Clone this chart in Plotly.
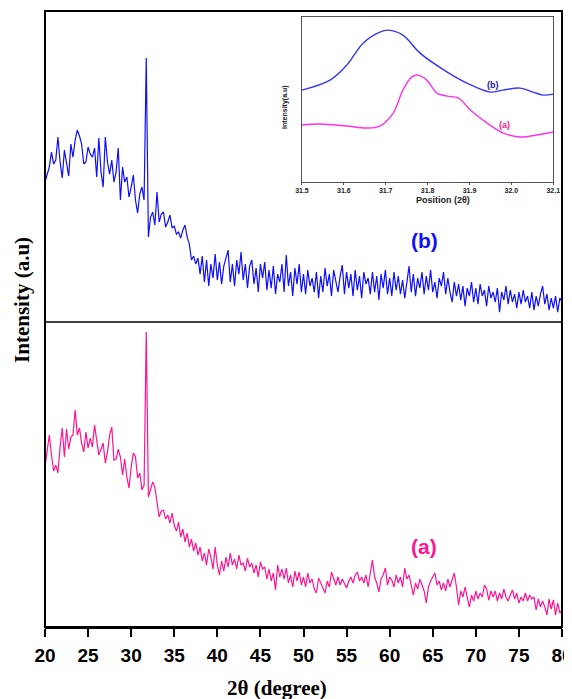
import plotly.graph_objects as go

# ---------------- data ----------------
# main scan grid: 20..80 deg, 0.25 deg steps
two_theta = [round(20 + 0.25 * i, 2) for i in range(241)]

# sample (b) - upper panel (arbitrary units)
intensity_b = [
    140, 148, 155, 170, 158, 162, 185, 160,
    144, 172, 160, 146, 178, 165, 182, 192,
    186, 178, 158, 160, 175, 168, 165, 174,
    145, 184, 150, 135, 185, 160, 148, 162,
    140, 150, 174, 122, 155, 140, 145, 125,
    135, 147, 122, 109, 128, 135, 122, 264,
    85, 105, 110, 97, 130, 100, 108, 110,
    95, 100, 107, 94, 96, 88, 90, 84,
    92, 97, 85, 78, 62, 66, 58, 64,
    48, 66, 40, 62, 36, 58, 44, 68,
    42, 60, 38, 56, 64, 72, 40, 58,
    36, 62, 48, 70, 42, 58, 34, 56,
    62, 38, 54, 30, 58, 44, 60, 32,
    52, 34, 56, 28, 48, 40, 58, 30,
    67, 36, 50, 26, 54, 38, 58, 30,
    48, 28, 52, 36, 44, 30, 50, 24,
    46, 30, 54, 36, 48, 26, 52, 40,
    30, 46, 57, 28, 50, 34, 48, 26,
    52, 32, 46, 24, 50, 38, 44, 28,
    50, 30, 46, 22, 48, 34, 52, 28,
    44, 26, 50, 32, 46, 28, 42, 24,
    40, 56, 30, 48, 26, 44, 34, 50,
    28, 46, 32, 52, 30, 40, 24, 44,
    36, 50, 28, 44, 30, 20, 40, 26,
    38, 22, 36, 16, 34, 26, 40, 20,
    34, 18, 38, 26, 32, 16, 36, 24,
    30, 20, 34, 10, 30, 22, 36, 18,
    32, 20, 28, 14, 30, 18, 32, 20,
    26, 14, 30, 12, 26, 16, 28, 36,
    18, 28, 12, 24, 14, 26, 10, 24,
    20,
]

# sample (a) - lower panel (arbitrary units)
intensity_a = [
    160, 175, 192, 172, 156, 162, 154, 180,
    199, 170, 198, 178, 190, 192, 217, 192,
    199, 184, 175, 195, 179, 189, 180, 202,
    185, 172, 178, 184, 164, 175, 192, 200,
    167, 168, 178, 170, 152, 168, 150, 139,
    160, 174, 170, 149, 154, 137, 142, 295,
    130, 138, 145, 140, 125, 110, 116, 117,
    108, 112, 104, 114, 102, 96, 105, 90,
    98, 85, 94, 80, 88, 76, 84, 72,
    80, 66, 74, 62, 78, 70, 58, 80,
    62, 52, 66, 56, 70, 60, 74, 62,
    68, 58, 72, 62, 64, 56, 69, 60,
    64, 54, 62, 50, 65, 58, 60, 48,
    58, 46, 54, 37, 62, 50, 58, 48,
    59, 44, 52, 40, 56, 46, 55, 42,
    50, 40, 54, 44, 48, 38, 34, 49,
    44, 38, 34, 46, 40, 55, 48, 42,
    50, 42, 48, 44, 39, 46, 50, 44,
    52, 55, 46, 50, 44, 52, 40, 54,
    67, 50, 44, 35, 48, 52, 59, 42,
    50, 47, 40, 52, 44, 50, 40, 59,
    48, 52, 40, 32, 44, 38, 48, 42,
    36, 24, 40, 46, 50, 54, 42, 46,
    37, 44, 36, 48, 40, 46, 54, 40,
    22, 36, 30, 40, 28, 20, 32, 26,
    36, 28, 34, 30, 42, 38, 27, 36,
    30, 36, 26, 34, 28, 38, 30, 26,
    32, 37, 28, 34, 24, 30, 26, 34,
    26, 32, 28, 30, 17, 28, 20, 26,
    20, 12, 28, 18, 27, 12, 24, 14,
    17,
]

x_ticks = [20, 25, 30, 35, 40, 45, 50, 55, 60, 65, 70, 75, 80]

# inset (zoom of the main peak)
inset_b_x = [31.500, 31.567, 31.607, 31.646, 31.686, 31.706, 31.741, 31.782,
             31.847, 31.894, 31.949, 31.980, 32.021, 32.052, 32.076, 32.100]
inset_b_y = [92, 102, 117, 139, 150, 152, 147, 129, 110, 99, 90, 92, 94, 90, 87, 88]

inset_a_x = [31.500, 31.543, 31.607, 31.655, 31.686, 31.718, 31.741, 31.762,
             31.777, 31.798, 31.822, 31.846, 31.874, 31.902, 31.942, 31.981,
             32.021, 32.061, 32.100]
inset_a_y = [57, 58, 56, 54, 56, 69, 92, 105, 107, 102, 89, 86, 84, 72, 59, 49, 45, 47, 50]

inset_ticks = [31.5, 31.6, 31.7, 31.8, 31.9, 32.0, 32.1]
inset_tick_text = ["31.5", "31.6", "31.7", "31.8", "31.9", "32.0", "32.1"]

# ---------------- style ----------------
BLUE = "#0f0fff"
PINK = "#ff1493"
INSET_BLUE = "#3535ff"
INSET_PINK = "#ff30e8"
SANS = "Liberation Sans, Arial, sans-serif"
SERIF = "Liberation Serif, Times New Roman, serif"

SPLIT = 0.495

fig = go.Figure()
fig.add_trace(go.Scatter(x=two_theta, y=intensity_a, xaxis="x", yaxis="y",
                         mode="lines", line=dict(color=PINK, width=1.2),
                         showlegend=False))
fig.add_trace(go.Scatter(x=two_theta, y=intensity_b, xaxis="x", yaxis="y2",
                         mode="lines", line=dict(color=BLUE, width=1.2),
                         showlegend=False))
fig.add_trace(go.Scatter(x=inset_b_x, y=inset_b_y, xaxis="x3", yaxis="y3",
                         mode="lines", line=dict(color=INSET_BLUE, width=1.4, shape="spline", smoothing=1.0),
                         showlegend=False))
fig.add_trace(go.Scatter(x=inset_a_x, y=inset_a_y, xaxis="x3", yaxis="y3",
                         mode="lines", line=dict(color=INSET_PINK, width=1.4, shape="spline", smoothing=1.0),
                         showlegend=False))


def ann(text, x, y, xref, yref, font, angle=0):
    return dict(text=text, x=x, y=y, xref=xref, yref=yref, showarrow=False,
                xanchor="center", yanchor="middle", textangle=angle, font=font)


# page body has an 8px default margin, so the figure is sized/margined to
# put the plot frame at window pixels x 45..562, y 11..627
fig.update_layout(
    width=564, height=691,
    margin=dict(l=37, r=10, t=3, b=72, pad=0),
    paper_bgcolor="white", plot_bgcolor="white",
    xaxis=dict(domain=[0, 1], range=[20, 80], anchor="y", automargin=False,
               tickvals=x_ticks, ticks="outside", ticklen=8, tickwidth=2,
               tickcolor="black", showline=True, linewidth=2, linecolor="black",
               showgrid=False, zeroline=False, ticklabelstandoff=2,
               ticklabeloverflow="allow",
               tickfont=dict(family=SANS, size=19, color="black", weight="bold")),
    yaxis=dict(domain=[0, SPLIT], range=[0, 305], anchor="x", automargin=False,
               showticklabels=False, showgrid=False, zeroline=False, ticks=""),
    yaxis2=dict(domain=[SPLIT, 1], range=[0, 311], anchor="x", automargin=False,
                showticklabels=False, showgrid=False, zeroline=False, ticks=""),
    xaxis3=dict(domain=[0.497, 0.983], range=[31.5, 32.1], anchor="y3", automargin=False,
                tickvals=inset_ticks, ticktext=inset_tick_text,
                ticks="outside", ticklen=2, tickcolor="#555",
                showline=True, mirror=True, linecolor="#555", linewidth=1,
                showgrid=False, zeroline=False, ticklabelstandoff=0,
                ticklabeloverflow="allow",
                tickfont=dict(family=SANS, size=7, color="#222", weight="bold")),
    yaxis3=dict(domain=[0.7224, 0.990], range=[0, 165], anchor="x3", automargin=False,
                showticklabels=False, showline=True, mirror=True,
                linecolor="#555", linewidth=1, showgrid=False, zeroline=False, ticks=""),
    shapes=[
        dict(type="rect", xref="paper", yref="paper", x0=0, y0=0, x1=1, y1=1,
             line=dict(color="black", width=2)),
        dict(type="line", xref="paper", yref="paper", x0=0, y0=SPLIT, x1=1, y1=SPLIT,
             line=dict(color="black", width=1.5)),
    ],
    annotations=[
        ann("(b)", 64, 82, "x", "y2", dict(family=SANS, size=21, color=BLUE, weight="bold")),
        ann("(a)", 64, 81, "x", "y", dict(family=SANS, size=21, color=PINK, weight="bold")),
        ann("2θ (degree)", 0.449, -0.099, "paper", "paper",
            dict(family=SERIF, size=21, color="black", weight="bold")),
        ann("Intensity (a.u)", -0.0445, 0.531, "paper", "paper",
            dict(family=SERIF, size=21, color="black", weight="bold"), angle=-90),
        ann("(b)", 31.957, 97, "x3", "y3", dict(family=SANS, size=9, color="#2020a0", weight="bold")),
        ann("(a)", 31.983, 57, "x3", "y3", dict(family=SANS, size=9, color=PINK, weight="bold")),
        ann("Position (2θ)", 0.770, 0.6932, "paper", "paper",
            dict(family=SANS, size=9, color="#222", weight="bold")),
        ann("Intensity(a.u)", 0.464, 0.844, "paper", "paper",
            dict(family=SANS, size=7, color="#222", weight="bold"), angle=-90),
    ],
)

fig.write_html("out.html")
